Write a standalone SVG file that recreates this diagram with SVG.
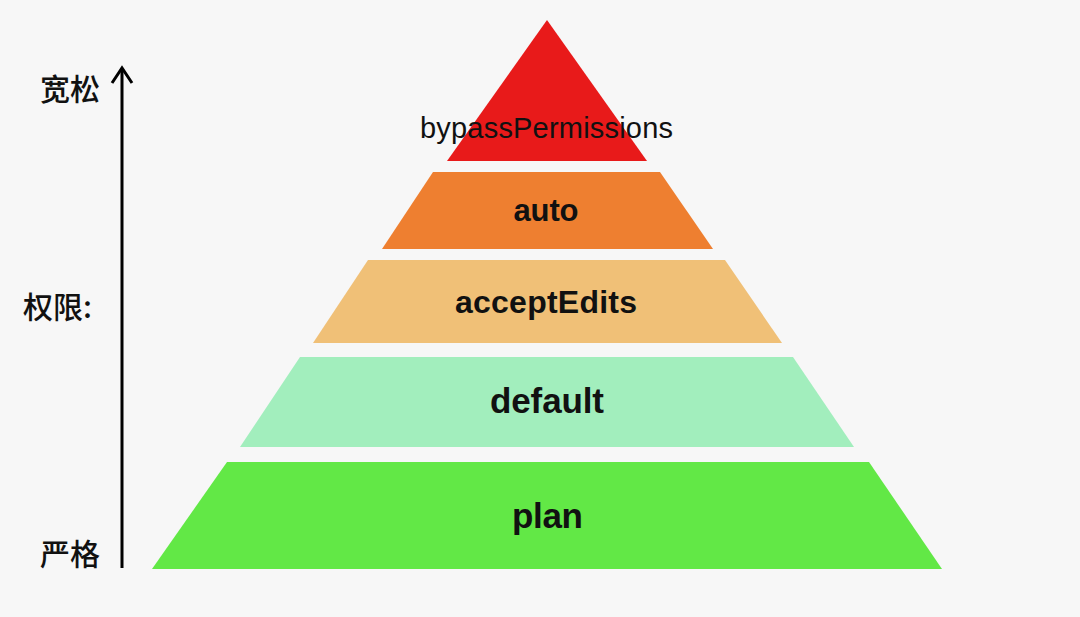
<svg xmlns="http://www.w3.org/2000/svg" width="1080" height="617" viewBox="0 0 1080 617">
<style>
.lbl{font-family:"Liberation Sans",Arial,sans-serif;font-weight:bold;fill:#111;text-anchor:middle}
.cn{font-family:"Noto Sans CJK SC","Noto Sans",sans-serif;font-size:30px;font-weight:500;fill:#111}
.axis{stroke:#000;stroke-width:3;fill:none}
</style>
<rect width="1080" height="617" fill="#f7f7f7"/>
<g id="connectors">
<line class="axis" x1="122" y1="69" x2="122" y2="568"/>
<polyline class="axis" points="112,83 122,68 132,83"/>
</g>
<g id="axis-labels">
<text class="cn" x="40" y="100">宽松</text>
<text class="cn" x="23" y="318">权限:</text>
<text class="cn" x="40" y="565">严格</text>
</g>
<g id="bypassPermissions">
<polygon points="547,20 647,161 447,161" fill="#e81a1a"/>
<text class="lbl" x="546.5" y="138" font-size="29" style="font-weight:normal" textLength="253">bypassPermissions</text>
</g>
<g id="auto">
<polygon points="433,172 660,172 713,249 382,249" fill="#ee7f30"/>
<text class="lbl" x="546" y="221" font-size="31" textLength="65">auto</text>
</g>
<g id="acceptEdits">
<polygon points="368,260 725,260 782,343 313,343" fill="#f0c077"/>
<text class="lbl" x="546" y="313" font-size="32" textLength="182">acceptEdits</text>
</g>
<g id="default">
<polygon points="300,357 793,357 854,447 240,447" fill="#a2eebd"/>
<text class="lbl" x="547" y="413" font-size="35" textLength="114">default</text>
</g>
<g id="plan">
<polygon points="227,462 869,462 942,569 152,569" fill="#62e846"/>
<text class="lbl" x="547.5" y="528" font-size="35" textLength="71">plan</text>
</g>
</svg>
